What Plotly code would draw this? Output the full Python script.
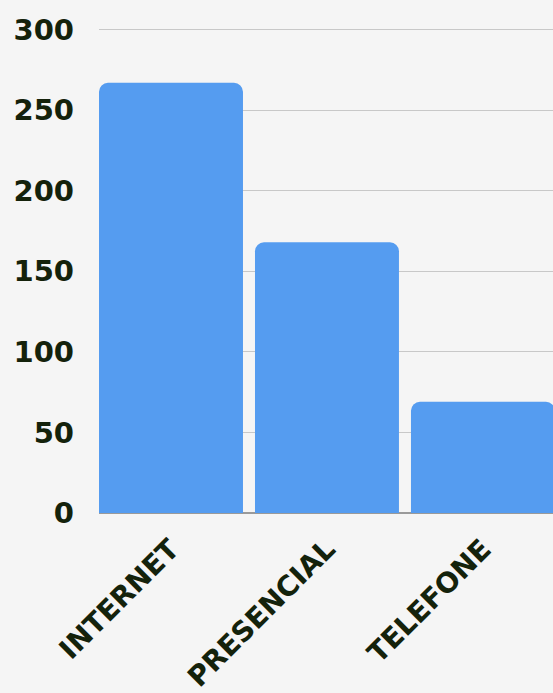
import plotly.graph_objects as go

categories = ["INTERNET", "PRESENCIAL", "TELEFONE"]
values = [267, 168, 69]
y_ticks = [0, 50, 100, 150, 200, 250, 300]

text_color = "#14220b"
font_family = "DejaVu Sans"

fig = go.Figure()
fig.add_trace(go.Bar(
    x=categories,
    y=values,
    marker=dict(color="#559cf0", line=dict(width=0)),
    width=0.923,
))

fig.update_layout(
    width=553,
    height=693,
    margin=dict(l=99, r=0, t=28, b=180),
    paper_bgcolor="#f5f5f5",
    plot_bgcolor="#f5f5f5",
    barcornerradius=9,
    showlegend=False,
    font=dict(family=font_family, color=text_color),
    xaxis=dict(
        range=[-0.4615, 2.449],
        tickangle=-45,
        tickfont=dict(size=28, family=font_family, color=text_color, weight="bold"),
        showgrid=False,
        showline=False,
        ticks="",
        ticklabelstandoff=13,
        zeroline=False,
    ),
    yaxis=dict(
        range=[0, 301],
        tickvals=y_ticks,
        ticktext=[str(v) for v in y_ticks],
        tickfont=dict(size=29, family=font_family, color=text_color, weight="bold"),
        showgrid=True,
        gridcolor="#c8c8c8",
        gridwidth=1,
        zeroline=True,
        zerolinecolor="#9a9a9a",
        zerolinewidth=2,
        ticks="",
        ticklabelstandoff=24,
        showline=False,
    ),
)

fig.write_html(
    "out.html",
    config={"displayModeBar": False},
    post_script="document.body.style.margin='0';document.body.style.background='#f5f5f5';",
)
